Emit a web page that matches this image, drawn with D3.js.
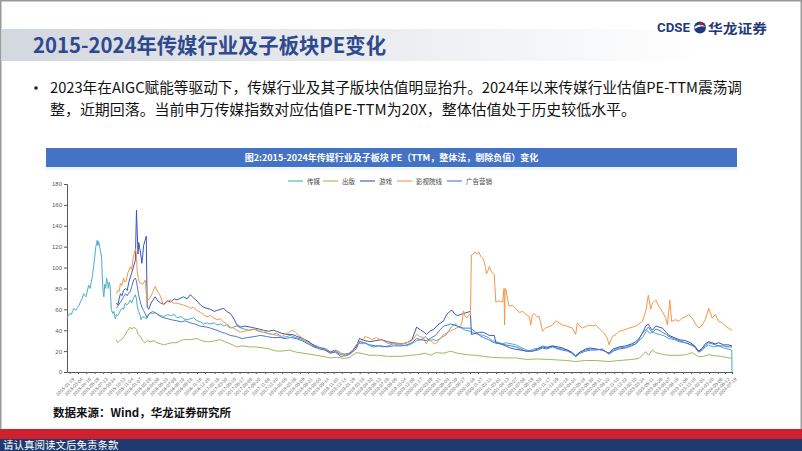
<!DOCTYPE html>
<html><head><meta charset="utf-8">
<script src="https://cdn.jsdelivr.net/npm/d3@7/dist/d3.min.js"></script>
<style>
body{margin:0;background:#fff;}
svg{display:block;font-family:"Noto Sans CJK SC","Noto Sans",sans-serif;}
</style></head>
<body>
<svg id="c" width="802" height="451"></svg>
<script>
// ---------------- DATA ----------------
const seriesNames = ["传媒", "出版", "游戏", "影视院线", "广告营销"];
const seriesColors = ["#4BACC6", "#9BBB59", "#3A56B8", "#F79646", "#4A78D0"];
const yTicks = [0, 20, 40, 60, 80, 100, 120, 140, 160, 180];
const xTickLabels = ["2015-01-19","2015-03-04","2015-04-16","2015-05-29","2015-07-13","2015-08-24","2015-10-13","2015-11-24",
"2016-01-07","2016-02-25","2016-04-08","2016-05-23","2016-07-05","2016-08-16","2016-09-28","2016-11-16","2016-12-28",
"2017-02-16","2017-03-30","2017-05-15","2017-06-27","2017-08-08","2017-09-20","2017-11-08","2017-12-20",
"2018-02-05","2018-03-26","2018-05-09","2018-06-21","2018-08-03","2018-09-14","2018-11-02","2018-12-14",
"2019-01-29","2019-03-18","2019-04-30","2019-06-13","2019-07-25","2019-09-05","2019-10-24","2019-12-05",
"2020-01-17","2020-03-09","2020-04-21","2020-06-03","2020-07-16","2020-08-27","2020-10-16","2020-11-27",
"2021-01-11","2021-03-01","2021-04-13","2021-05-27","2021-07-08","2021-08-19","2021-09-30","2021-11-17","2021-12-29",
"2022-02-18","2022-04-01","2022-05-18","2022-06-30","2022-08-11","2022-09-22","2022-11-10","2022-12-22",
"2023-02-10","2023-03-24","2023-05-11","2023-06-26","2023-08-07","2023-09-18","2023-11-06","2023-12-18",
"2024-02-01","2024-03-20","2024-05-06","2024-06-12","2024-07-19"];

const media = [["2015-01-05",51],["2015-01-12",54],["2015-01-19",56],["2015-01-27",55],["2015-02-03",58],["2015-02-10",61],["2015-02-20",59],["2015-03-02",62],["2015-03-10",64],["2015-03-18",68],["2015-03-25",70],["2015-04-02",75],["2015-04-09",73],["2015-04-14",72],["2015-04-20",76],["2015-04-28",83],["2015-05-06",80],["2015-05-12",86],["2015-05-18",92],["2015-05-25",102],["2015-05-29",108],["2015-06-05",120],["2015-06-09",123],["2015-06-12",126],["2015-06-16",121],["2015-06-19",125],["2015-06-24",121],["2015-06-30",115],["2015-07-05",110],["2015-07-09",90],["2015-07-14",76],["2015-07-17",72],["2015-07-22",84],["2015-07-27",80],["2015-07-31",90],["2015-08-05",86],["2015-08-10",80],["2015-08-14",86],["2015-08-19",82],["2015-08-25",60],["2015-09-02",56],["2015-09-08",58],["2015-09-15",51],["2015-09-21",55],["2015-09-28",54],["2015-10-12",59],["2015-10-20",61],["2015-10-28",60],["2015-11-06",66],["2015-11-13",64],["2015-11-20",65],["2015-12-03",69],["2015-12-10",66],["2015-12-18",70],["2015-12-29",74],["2016-01-04",70],["2016-01-08",63],["2016-01-15",58],["2016-01-22",55],["2016-01-28",50],["2016-02-04",53],["2016-02-16",52],["2016-02-26",51],["2016-03-07",55],["2016-03-16",56],["2016-03-25",58],["2016-04-11",57],["2016-04-25",55],["2016-05-10",54],["2016-05-25",53],["2016-06-15",55],["2016-07-01",54],["2016-07-20",55],["2016-08-03",52],["2016-08-25",53],["2016-09-07",51],["2016-09-25",50],["2016-10-12",51],["2016-10-28",52],["2016-11-16",49],["2016-12-05",48],["2016-12-20",46],["2017-01-07",47],["2017-01-25",46],["2017-02-15",47],["2017-02-28",45],["2017-03-20",46],["2017-04-04",44],["2017-04-20",45],["2017-05-09",42],["2017-05-25",43],["2017-06-13",44],["2017-07-05",42],["2017-07-25",41],["2017-08-15",40],["2017-09-10",41],["2017-10-05",39],["2017-10-30",38],["2017-11-20",37],["2017-12-15",36],["2018-01-07",37],["2018-01-25",35],["2018-02-08",33],["2018-03-01",34],["2018-03-20",35],["2018-04-15",33],["2018-05-10",32],["2018-06-01",30],["2018-06-25",28],["2018-07-22",26],["2018-08-15",24],["2018-09-05",23],["2018-09-25",22],["2018-10-16",19],["2018-11-05",21],["2018-11-25",20],["2018-12-10",18],["2018-12-28",17],["2019-01-15",17],["2019-02-05",19],["2019-02-27",24],["2019-03-10",28],["2019-03-25",27],["2019-04-15",28],["2019-05-10",25],["2019-06-01",24],["2019-06-25",25],["2019-07-20",24],["2019-08-15",25],["2019-09-10",27],["2019-10-05",26],["2019-10-26",26],["2019-11-20",25],["2019-12-15",27],["2020-01-10",30],["2020-02-05",31],["2020-02-25",34],["2020-03-15",30],["2020-04-05",31],["2020-04-25",30],["2020-05-20",33],["2020-06-15",36],["2020-07-06",42],["2020-07-15",44],["2020-08-01",46],["2020-08-15",43],["2020-09-01",42],["2020-09-20",40],["2020-10-18",39],["2020-11-10",37],["2020-12-01",36],["2020-12-25",35],["2021-01-20",33],["2021-02-10",30],["2021-03-05",29],["2021-04-01",27],["2021-04-25",28],["2021-05-20",27],["2021-06-12",26],["2021-07-05",24],["2021-07-28",22],["2021-08-22",20],["2021-09-15",22],["2021-10-10",23],["2021-10-31",25],["2021-11-25",24],["2021-12-22",25],["2022-01-15",23],["2022-02-12",22],["2022-03-10",21],["2022-04-01",19],["2022-04-22",16],["2022-05-15",19],["2022-06-13",21],["2022-07-10",22],["2022-08-05",22],["2022-09-09",21],["2022-10-14",18],["2022-11-05",21],["2022-12-06",23],["2023-01-15",24],["2023-02-10",26],["2023-03-03",27],["2023-03-20",30],["2023-04-07",33],["2023-04-20",37],["2023-05-01",40],["2023-05-15",37],["2023-05-29",38],["2023-06-16",37],["2023-07-03",36],["2023-07-25",35],["2023-08-24",32],["2023-09-20",31],["2023-10-15",29],["2023-11-18",28],["2023-12-10",27],["2024-01-05",25],["2024-01-27",19],["2024-02-15",21],["2024-03-01",24],["2024-03-19",26],["2024-04-10",24],["2024-05-11",25],["2024-06-05",23],["2024-06-28",22],["2024-07-18",21],["2024-07-19",0]];

const publishing = [["2015-09-21",31],["2015-09-28",28],["2015-10-03",29],["2015-10-15",31],["2015-10-28",33],["2015-11-10",37],["2015-11-20",40],["2015-12-03",43],["2015-12-12",41],["2015-12-20",43],["2016-01-04",41],["2016-01-12",36],["2016-01-24",34],["2016-02-05",30],["2016-02-19",28],["2016-03-01",30],["2016-03-16",29],["2016-04-05",30],["2016-04-20",28],["2016-05-10",27],["2016-05-25",26],["2016-06-15",27],["2016-07-05",28],["2016-08-03",28],["2016-08-20",30],["2016-09-07",31],["2016-10-12",31],["2016-11-16",32],["2016-12-10",30],["2017-01-05",29],["2017-01-24",29],["2017-02-20",30],["2017-03-18",31],["2017-04-10",29],["2017-05-09",27],["2017-06-13",24],["2017-07-10",25],["2017-08-22",24],["2017-09-20",24],["2017-10-30",23],["2017-12-01",22],["2018-01-07",20],["2018-02-03",20],["2018-03-15",21],["2018-04-20",19],["2018-05-25",18],["2018-07-01",17],["2018-07-22",16.5],["2018-09-01",15],["2018-10-16",13.5],["2018-11-20",14],["2018-12-28",13],["2019-01-25",14],["2019-02-27",18.5],["2019-03-25",18],["2019-05-10",16],["2019-06-20",16],["2019-08-10",15],["2019-10-26",15],["2019-12-10",16],["2020-01-10",16.5],["2020-02-25",18],["2020-03-25",16],["2020-04-18",18.5],["2020-06-01",18],["2020-07-06",20],["2020-08-10",18],["2020-10-02",16.5],["2020-11-15",16],["2020-12-25",15],["2021-02-10",14],["2021-04-10",13.5],["2021-06-12",13.5],["2021-08-10",12],["2021-10-01",12.5],["2021-12-05",12],["2022-01-20",11.5],["2022-03-10",11],["2022-04-22",10],["2022-06-13",11],["2022-08-05",11],["2022-10-14",10],["2022-12-06",11],["2023-02-10",12],["2023-03-20",13],["2023-04-24",19.5],["2023-05-08",16],["2023-05-29",21],["2023-06-16",18.5],["2023-07-20",17],["2023-08-24",16],["2023-10-15",16],["2023-11-18",16.5],["2023-12-24",18.5],["2024-01-27",14.5],["2024-02-20",15],["2024-03-19",16.5],["2024-04-23",15.5],["2024-05-20",15],["2024-06-20",14],["2024-07-19",13]];

const gaming = [["2015-09-21",66],["2015-09-28",64],["2015-10-05",70],["2015-10-12",75],["2015-10-20",73],["2015-10-28",78],["2015-11-08",80],["2015-11-16",78],["2015-11-25",86],["2015-12-03",91],["2015-12-10",95],["2015-12-18",100],["2015-12-29",107],["2016-01-04",155],["2016-01-08",133],["2016-01-12",113],["2016-01-16",124],["2016-01-20",119],["2016-01-24",116],["2016-02-01",104],["2016-02-05",110],["2016-02-10",121],["2016-02-18",126],["2016-02-24",130],["2016-02-29",62],["2016-03-08",60],["2016-03-20",66],["2016-04-11",72],["2016-04-25",68],["2016-05-10",66],["2016-05-25",65],["2016-06-15",68],["2016-07-01",67],["2016-07-20",70],["2016-08-03",69],["2016-08-25",71],["2016-09-07",72],["2016-09-25",70],["2016-10-12",74],["2016-10-28",71],["2016-11-16",68],["2016-12-05",64],["2016-12-20",62],["2017-01-07",61],["2017-01-25",60],["2017-02-15",58],["2017-02-28",59],["2017-03-20",60],["2017-04-04",61],["2017-04-20",58],["2017-05-09",56],["2017-05-25",52],["2017-06-13",45],["2017-07-05",43],["2017-07-25",44],["2017-08-22",43],["2017-09-15",42],["2017-10-10",41],["2017-10-30",40],["2017-11-25",39],["2017-12-20",40],["2018-01-07",39],["2018-02-03",37],["2018-03-01",36],["2018-03-29",36],["2018-04-25",34],["2018-05-25",32],["2018-06-25",29],["2018-07-22",25],["2018-08-20",23],["2018-09-15",22],["2018-10-16",19],["2018-11-10",20],["2018-12-08",16.6],["2019-01-03",17],["2019-01-25",18],["2019-02-27",24],["2019-03-17",32],["2019-04-15",30],["2019-05-10",29],["2019-06-10",30],["2019-07-10",31],["2019-08-10",29],["2019-09-10",28],["2019-10-26",27],["2019-11-20",28],["2019-12-17",31],["2020-01-10",43],["2020-02-01",40],["2020-02-20",38],["2020-03-01",36],["2020-03-20",39],["2020-04-10",41],["2020-04-30",45],["2020-05-31",49],["2020-06-15",55],["2020-07-06",58.5],["2020-07-15",59],["2020-07-25",56],["2020-08-10",54],["2020-08-28",55],["2020-09-12",56],["2020-09-30",57],["2020-10-18",58],["2020-10-23",36],["2020-11-15",37],["2020-12-05",38],["2020-12-25",38],["2021-01-15",36],["2021-01-25",35],["2021-02-20",35],["2021-02-28",28],["2021-03-25",27],["2021-04-20",25],["2021-05-15",23],["2021-06-12",21.7],["2021-07-10",21],["2021-08-05",20],["2021-09-08",20],["2021-10-05",22],["2021-10-31",24],["2021-11-20",23],["2021-12-22",25],["2022-01-20",24],["2022-02-12",23],["2022-03-10",21],["2022-04-01",19],["2022-04-22",15],["2022-05-15",19],["2022-06-13",22],["2022-07-10",23],["2022-08-05",22],["2022-09-09",21],["2022-10-14",18],["2022-11-05",22],["2022-12-06",24],["2023-01-10",25],["2023-02-10",27],["2023-03-03",29],["2023-03-20",32],["2023-04-07",37],["2023-04-24",44],["2023-05-08",46],["2023-05-20",42],["2023-05-29",40],["2023-06-16",44],["2023-07-03",43],["2023-07-20",42],["2023-08-10",38],["2023-08-24",35],["2023-09-20",33],["2023-10-15",31],["2023-11-18",30],["2023-12-15",28],["2024-01-05",25],["2024-01-27",20],["2024-02-15",23],["2024-03-01",27],["2024-03-19",29],["2024-04-05",28],["2024-04-23",27],["2024-05-11",28],["2024-06-05",26],["2024-06-28",26],["2024-07-19",25]];

const film = [["2015-09-21",75],["2015-09-28",78],["2015-10-05",77],["2015-10-12",85],["2015-10-20",83],["2015-10-28",90],["2015-11-05",86],["2015-11-12",88],["2015-11-20",95],["2015-12-03",101],["2015-12-10",98],["2015-12-18",110],["2015-12-29",118],["2016-01-04",112],["2016-01-07",97],["2016-01-15",88],["2016-01-24",85],["2016-02-05",84],["2016-02-19",88],["2016-02-28",67],["2016-03-08",70],["2016-03-16",71],["2016-03-28",76],["2016-04-11",82],["2016-04-20",78],["2016-05-05",74],["2016-05-25",64],["2016-06-10",67],["2016-06-28",69],["2016-07-15",66],["2016-08-03",66],["2016-08-20",65],["2016-09-07",64],["2016-09-25",63],["2016-10-12",61],["2016-10-28",62],["2016-11-16",59],["2016-12-05",57],["2016-12-20",55],["2017-01-07",53],["2017-01-25",54],["2017-02-10",52],["2017-02-28",50],["2017-03-18",51],["2017-04-04",48],["2017-04-20",46],["2017-05-09",43],["2017-05-25",42],["2017-06-13",40],["2017-06-30",38],["2017-07-20",39],["2017-08-22",40],["2017-09-20",41],["2017-10-10",39],["2017-10-30",40],["2017-11-20",37],["2017-12-15",36],["2018-01-07",35],["2018-02-03",34],["2018-02-20",36],["2018-03-12",38],["2018-03-29",40],["2018-04-15",38],["2018-05-03",35],["2018-05-25",32],["2018-06-15",29],["2018-07-05",26],["2018-07-22",24],["2018-08-15",23],["2018-09-05",22],["2018-09-25",21],["2018-10-16",18],["2018-11-05",20],["2018-11-25",19],["2018-12-08",17],["2018-12-28",16.5],["2019-01-20",18],["2019-02-10",21],["2019-02-27",26],["2019-03-15",29],["2019-04-04",30],["2019-04-15",34],["2019-04-30",33],["2019-05-20",31],["2019-06-13",33],["2019-07-01",31],["2019-07-18",30],["2019-08-05",28],["2019-08-22",27],["2019-09-15",28],["2019-10-05",27],["2019-10-26",27],["2019-11-20",28],["2019-12-17",30],["2020-01-10",36],["2020-01-25",34],["2020-02-14",33],["2020-03-01",27],["2020-03-10",30],["2020-03-19",31],["2020-04-05",28],["2020-04-18",27],["2020-05-10",31],["2020-05-31",36],["2020-06-20",38],["2020-07-06",39.5],["2020-07-25",41],["2020-08-10",42.5],["2020-08-28",44],["2020-09-05",49],["2020-09-12",58.5],["2020-09-20",53],["2020-09-30",52],["2020-10-10",55],["2020-10-18",54],["2020-10-23",112],["2020-11-01",113],["2020-11-10",115],["2020-11-20",113],["2020-12-01",115],["2020-12-10",111],["2020-12-25",108],["2021-01-05",100],["2021-01-10",94],["2021-01-18",97],["2021-01-25",101],["2021-02-05",96],["2021-02-20",93],["2021-02-28",67],["2021-03-15",68],["2021-04-05",67],["2021-04-12",80],["2021-04-15",45],["2021-04-18",80],["2021-04-22",79],["2021-05-08",63],["2021-05-25",64],["2021-06-12",61],["2021-06-30",57],["2021-07-18",58],["2021-08-05",55],["2021-08-22",53],["2021-08-30",45],["2021-09-08",55],["2021-09-17",56],["2021-10-01",53],["2021-10-13",53],["2021-10-31",39],["2021-11-15",42],["2021-12-05",43.5],["2021-12-22",45],["2022-01-08",49],["2022-01-25",47],["2022-02-12",45],["2022-03-05",44],["2022-04-05",42],["2022-04-22",36],["2022-05-01",47],["2022-05-15",44],["2022-05-27",42],["2022-07-01",45],["2022-07-20",44],["2022-08-05",45],["2022-08-22",42],["2022-09-18",37],["2022-10-05",32.5],["2022-10-14",26],["2022-11-01",34],["2022-11-20",36],["2022-12-06",39],["2022-12-28",40],["2023-01-27",42],["2023-02-15",43],["2023-03-03",44],["2023-03-20",46],["2023-04-07",48.5],["2023-04-24",58],["2023-05-08",73.7],["2023-05-20",60],["2023-05-29",66],["2023-06-16",69],["2023-07-03",62.6],["2023-07-20",58],["2023-08-07",51.6],["2023-08-16",45],["2023-08-28",69],["2023-09-07",48.5],["2023-09-28",50],["2023-10-15",48.5],["2023-11-01",51.6],["2023-11-20",53],["2023-12-06",55],["2023-12-24",51.6],["2024-01-10",46],["2024-01-27",42],["2024-02-14",45],["2024-03-01",50],["2024-03-19",61],["2024-04-06",51.6],["2024-04-23",55],["2024-05-11",48.5],["2024-05-28",47],["2024-06-14",44],["2024-07-01",42],["2024-07-19",40]];

const advertising = [["2015-09-21",61],["2015-09-28",63],["2015-10-05",65],["2015-10-12",67],["2015-10-20",69],["2015-10-28",72],["2015-11-08",75],["2015-11-16",73],["2015-11-25",76],["2015-12-03",77],["2015-12-10",82],["2015-12-20",88],["2015-12-29",90],["2016-01-04",87],["2016-01-07",83],["2016-01-15",74],["2016-01-24",67],["2016-02-01",62],["2016-02-10",59],["2016-02-18",56],["2016-02-28",52],["2016-03-08",55],["2016-03-16",57],["2016-03-28",56],["2016-04-11",57],["2016-04-25",55],["2016-05-10",53],["2016-05-25",52],["2016-06-15",51],["2016-07-05",50],["2016-08-03",49],["2016-08-25",48],["2016-09-15",49],["2016-10-12",47],["2016-11-05",46],["2016-12-01",44],["2017-01-07",43],["2017-01-25",42],["2017-02-28",40],["2017-03-25",38],["2017-04-15",37],["2017-05-09",35],["2017-06-10",34],["2017-07-10",32],["2017-08-10",33],["2017-09-15",34],["2017-10-15",35],["2017-11-15",34],["2017-12-15",33],["2018-01-24",33],["2018-02-20",32],["2018-03-20",33],["2018-04-20",32],["2018-05-20",30],["2018-06-20",27],["2018-07-22",24],["2018-08-20",22],["2018-09-15",21],["2018-10-16",18],["2018-11-10",19],["2018-12-08",15],["2019-01-03",15.5],["2019-01-25",17],["2019-02-27",22],["2019-03-17",29],["2019-04-10",28],["2019-05-10",26],["2019-06-10",25],["2019-07-10",25],["2019-08-10",24],["2019-09-10",25],["2019-10-26",25],["2019-11-20",26],["2019-12-17",28],["2020-01-10",32],["2020-02-01",31],["2020-03-01",30],["2020-03-20",32],["2020-04-18",35],["2020-05-10",40],["2020-05-31",44],["2020-06-20",45],["2020-07-06",46],["2020-07-25",45],["2020-08-10",44],["2020-09-12",42],["2020-10-18",42],["2020-11-15",38],["2020-12-05",35],["2020-12-25",33],["2021-01-20",31],["2021-02-20",28],["2021-03-20",27],["2021-04-20",26],["2021-05-20",25],["2021-06-12",24],["2021-07-10",22],["2021-08-05",20],["2021-09-08",20],["2021-10-05",21],["2021-10-31",23],["2021-11-20",22],["2021-12-22",24],["2022-01-20",22],["2022-02-12",21],["2022-03-10",20],["2022-04-01",18],["2022-04-22",14.6],["2022-05-15",18],["2022-06-13",20],["2022-07-10",21],["2022-08-05",21],["2022-09-09",22],["2022-10-14",17],["2022-11-05",20],["2022-12-06",22],["2023-01-10",23],["2023-02-10",25],["2023-03-03",27],["2023-03-20",31],["2023-04-07",38],["2023-04-24",40],["2023-05-08",43],["2023-05-20",40],["2023-05-29",38],["2023-06-16",41],["2023-07-03",40],["2023-07-20",38],["2023-08-10",36],["2023-08-24",34],["2023-09-20",32],["2023-10-15",30],["2023-11-18",28],["2023-12-15",26],["2024-01-05",24],["2024-01-27",19],["2024-02-15",22],["2024-03-01",25],["2024-03-19",28],["2024-04-05",27],["2024-04-23",26],["2024-05-11",25],["2024-06-05",25],["2024-06-28",24],["2024-07-19",24]];

const allSeries = [media, publishing, gaming, film, advertising];

// ---------------- DRAW ----------------
const svg = d3.select("#c");
const parse = d3.timeParse("%Y-%m-%d");
const defs = svg.append("defs");
const g1 = defs.append("linearGradient").attr("id","tband").attr("x1","0").attr("x2","1").attr("y1","0").attr("y2","0");
g1.append("stop").attr("offset","0").attr("stop-color","#d3d7de");
g1.append("stop").attr("offset","0.45").attr("stop-color","#e9ebef");
g1.append("stop").attr("offset","0.9").attr("stop-color","#ffffff");

// slide frame
svg.append("rect").attr("x",0.75).attr("y",0.75).attr("width",800.5).attr("height",449.5).attr("fill","none").attr("stroke","#9a9a9a").attr("stroke-width",1.5);

// title band
svg.append("rect").attr("x",1.5).attr("y",29).attr("width",780).attr("height",32).attr("fill","url(#tband)");
svg.append("text").attr("x",33).attr("y",53).attr("font-size",21).attr("font-weight","bold").attr("fill","#2E4A8E")
  .attr("textLength",353).attr("lengthAdjust","spacingAndGlyphs").text("2015-2024年传媒行业及子板块PE变化");

// logo
svg.append("text").attr("x",657).attr("y",32).attr("font-size",12.5).attr("font-weight","bold").attr("fill","#1F3A7A").attr("font-family","Roboto, 'DejaVu Sans', sans-serif")
  .attr("textLength",33).attr("lengthAdjust","spacingAndGlyphs").text("CDSE");
svg.append("circle").attr("cx",700).attr("cy",27.5).attr("r",6).attr("fill","#1F3A7A");
svg.append("path").attr("d","M694.5,27 Q700,22 706,27 Q700,25 694.5,29 Z").attr("fill","#ffffff");
svg.append("circle").attr("cx",701).attr("cy",24).attr("r",1.6).attr("fill","#D0202E");
svg.append("text").attr("x",708).attr("y",32.5).attr("font-size",13).attr("font-weight","bold").attr("fill","#1F3A7A")
  .attr("textLength",59).attr("lengthAdjust","spacingAndGlyphs").text("华龙证券");

// bullet text
svg.append("circle").attr("cx",36).attr("cy",88).attr("r",1.8).attr("fill","#222");
svg.append("text").attr("x",50).attr("y",93).attr("font-size",14.5).attr("fill","#111")
  .attr("textLength",692).attr("lengthAdjust","spacingAndGlyphs")
  .text("2023年在AIGC赋能等驱动下，传媒行业及其子版块估值明显抬升。2024年以来传媒行业估值PE-TTM震荡调");
svg.append("text").attr("x",50).attr("y",115).attr("font-size",14.5).attr("fill","#111")
  .attr("textLength",586).attr("lengthAdjust","spacingAndGlyphs")
  .text("整，近期回落。当前申万传媒指数对应估值PE-TTM为20X，整体估值处于历史较低水平。");

// chart title bar
svg.append("rect").attr("x",46).attr("y",148).attr("width",691).attr("height",19).attr("fill","#4472C4");
svg.append("text").attr("x",391.5).attr("y",161).attr("text-anchor","middle").attr("font-size",9).attr("font-weight","bold").attr("fill","#fff")
  .text("图2:2015-2024年传媒行业及子板块 PE（TTM，整体法，剔除负值）变化");
svg.append("rect").attr("x",46).attr("y",167).attr("width",691).attr("height",3).attr("fill","#eef8fc");

// scales
const x = d3.scaleTime().domain([parse("2015-01-05"), parse("2024-07-19")]).range([67, 732]);
const y = d3.scaleLinear().domain([0, 180]).range([372, 184]);

// y axis
const ya = svg.append("g").attr("transform","translate(67,0)")
  .call(d3.axisLeft(y).tickValues(yTicks).tickSize(3).tickPadding(2));
ya.select(".domain").attr("stroke","#595959");
ya.selectAll(".tick line").attr("stroke","#595959");
ya.selectAll(".tick text").attr("font-size",6).attr("fill","#595959").attr("font-family","'Liberation Sans', Arial, sans-serif");

// x axis
const xa = svg.append("g").attr("transform","translate(0,372)")
  .call(d3.axisBottom(x).tickValues(xTickLabels.map(parse)).tickFormat(d3.timeFormat("%Y-%m-%d")).tickSize(2).tickSizeOuter(0));
xa.select(".domain").attr("stroke","#595959");
xa.selectAll(".tick line").attr("stroke","#595959");
xa.selectAll(".tick text").attr("font-size",4.6).attr("fill","#666").attr("font-family","'Liberation Sans', Arial, sans-serif")
  .attr("text-anchor","end").attr("dx",0).attr("dy",0).attr("transform","translate(1,4) rotate(-45)");

// lines
const line = d3.line().x(d => x(parse(d[0]))).y(d => y(d[1]));
allSeries.forEach((s, i) => {
  svg.append("path").datum(s).attr("d", line).attr("fill","none")
    .attr("stroke", seriesColors[i]).attr("stroke-width",1).attr("stroke-linejoin","round");
});

// legend
const legendX = [288, 323, 360, 397, 447];
const lg = svg.append("g");
seriesNames.forEach((n, i) => {
  lg.append("line").attr("x1",legendX[i]).attr("x2",legendX[i]+15).attr("y1",181).attr("y2",181).attr("stroke",seriesColors[i]).attr("stroke-width",1.1);
  lg.append("text").attr("x",legendX[i]+19).attr("y",183.5).attr("font-size",6.5).attr("fill","#444").text(n);
});

// source
svg.append("text").attr("x",53).attr("y",417).attr("font-size",11).attr("font-weight","bold").attr("fill","#111")
  .attr("textLength",178).attr("lengthAdjust","spacingAndGlyphs").text("数据来源：Wind，华龙证券研究所");

// footer
svg.append("rect").attr("x",0).attr("y",429).attr("width",802).attr("height",10).attr("fill","#D0202E");
svg.append("rect").attr("x",0).attr("y",439).attr("width",802).attr("height",12).attr("fill","#1F3A6E");
svg.append("text").attr("x",3).attr("y",449).attr("font-size",10.5).attr("fill","#fff").text("请认真阅读文后免责条款");
</script>
</body></html>
